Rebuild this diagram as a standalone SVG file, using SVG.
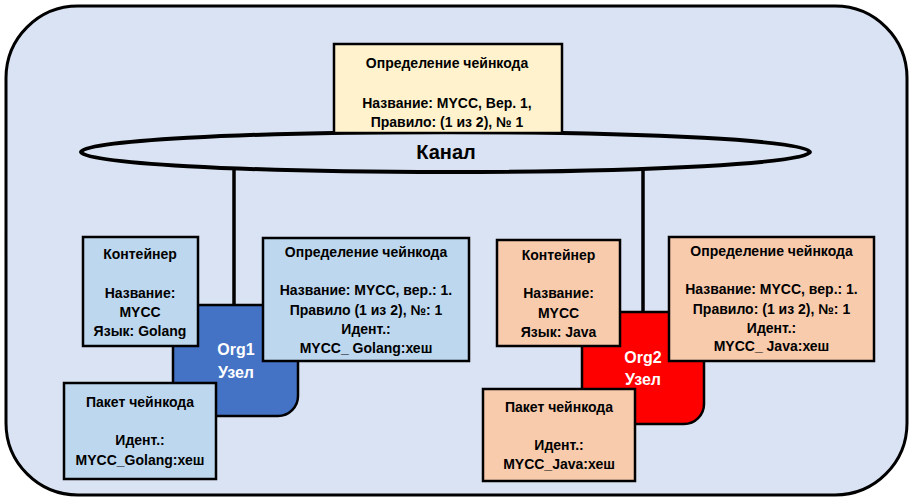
<svg xmlns="http://www.w3.org/2000/svg" width="916" height="503" viewBox="0 0 916 503">
<style>
text{font-family:"Liberation Sans",Arial,sans-serif;font-weight:bold;text-anchor:middle;fill:#000}
.t{font-size:14px}
.box{stroke:#000;stroke-width:2.5}
.blue{fill:#bdd7ee}
.orange{fill:#f8cbad}
.node{fill:#fff;font-size:16px}
.conn{stroke:#000;stroke-width:3.5;fill:none}
</style>
<rect x="6" y="6" width="901" height="489" rx="72" ry="72" fill="#dae3f3" stroke="#000" stroke-width="3"/>
<g id="connectors">
<line class="conn" x1="234" y1="168" x2="234" y2="306"/>
<line class="conn" x1="643" y1="168" x2="643" y2="313"/>
</g>
<g id="channel">
<ellipse cx="445.5" cy="152" rx="364.5" ry="20" fill="none" stroke="#000" stroke-width="4"/>
<text x="446" y="159" style="font-size:20px">Канал</text>
</g>
<g id="channel-def">
<rect class="box" x="334" y="44" width="228" height="89" fill="#fff2cc"/>
<text class="t" x="447" y="68">Определение чейнкода</text>
<text class="t" x="447" y="108">Название: MYCC, Вер. 1,</text>
<text class="t" x="447" y="127">Правило: (1 из 2), № 1</text>
</g>
<g id="org1">
<path d="M173 305 H298 V396 A20 20 0 0 1 278 416 H173 Z" fill="#4472c4" stroke="#000" stroke-width="2.5"/>
<text class="node" x="236" y="355">Org1</text>
<text class="node" x="236" y="378">Узел</text>
</g>
<g id="org1-container">
<rect class="box blue" x="83" y="237" width="115" height="109"/>
<text class="t" x="140" y="259">Контейнер</text>
<text class="t" x="140" y="298">Название:</text>
<text class="t" x="140" y="317">MYCC</text>
<text class="t" x="140" y="336">Язык: Golang</text>
</g>
<g id="org1-def">
<rect class="box blue" x="263" y="238" width="206" height="123"/>
<text class="t" x="366" y="257">Определение чейнкода</text>
<text class="t" x="366" y="295">Название: MYCC, вер.: 1.</text>
<text class="t" x="366" y="315">Правило (1 из 2), №: 1</text>
<text class="t" x="366" y="334">Идент.:</text>
<text class="t" x="366" y="353">MYCC_ Golang:хеш</text>
</g>
<g id="org1-package">
<rect class="box blue" x="64" y="383" width="152" height="96"/>
<text class="t" x="140" y="407">Пакет чейнкода</text>
<text class="t" x="140" y="445">Идент.:</text>
<text class="t" x="140" y="465">MYCC_Golang:хеш</text>
</g>
<g id="org2">
<path d="M582 312 H704 V404 A20 20 0 0 1 684 424 H582 Z" fill="#ff0000" stroke="#000" stroke-width="2.5"/>
<text class="node" x="643" y="363">Org2</text>
<text class="node" x="643" y="385">Узел</text>
</g>
<g id="org2-container">
<rect class="box orange" x="497" y="240" width="123" height="106"/>
<text class="t" x="558.5" y="260">Контейнер</text>
<text class="t" x="558.5" y="298">Название:</text>
<text class="t" x="558.5" y="318">MYCC</text>
<text class="t" x="558.5" y="337">Язык: Java</text>
</g>
<g id="org2-def">
<rect class="box orange" x="669" y="237" width="205" height="124"/>
<text class="t" x="771.5" y="256">Определение чейнкода</text>
<text class="t" x="771.5" y="294">Название: MYCC, вер.: 1.</text>
<text class="t" x="771.5" y="314">Правило: (1 из 2), №: 1</text>
<text class="t" x="771.5" y="333">Идент.:</text>
<text class="t" x="771.5" y="351">MYCC_ Java:хеш</text>
</g>
<g id="org2-package">
<rect class="box orange" x="483" y="389" width="152" height="92"/>
<text class="t" x="559" y="412">Пакет чейнкода</text>
<text class="t" x="559" y="450">Идент.:</text>
<text class="t" x="559" y="469">MYCC_Java:хеш</text>
</g>
</svg>
